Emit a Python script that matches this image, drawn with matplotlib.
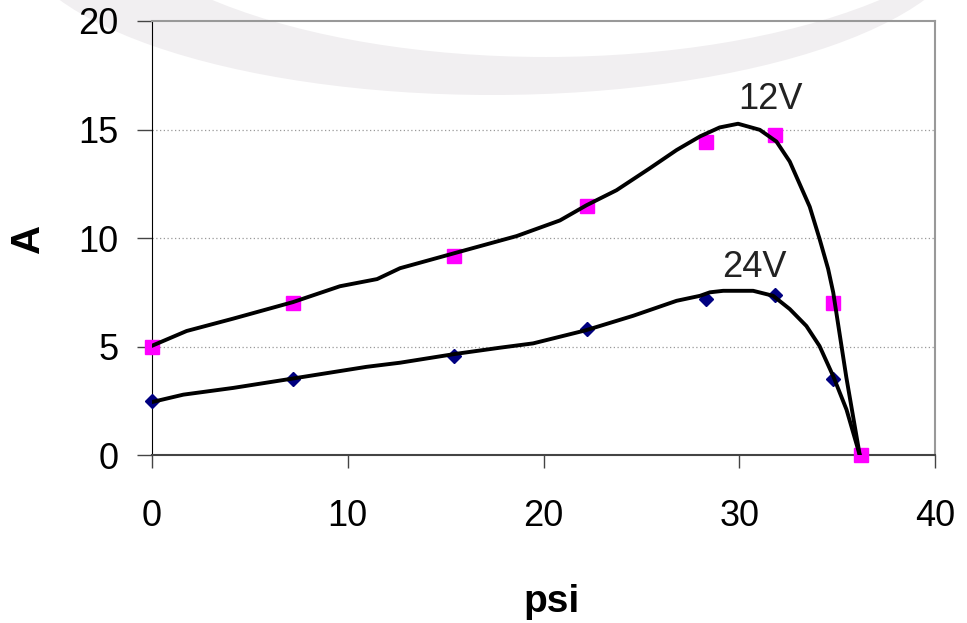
import matplotlib
matplotlib.use("Agg")
import matplotlib.pyplot as plt
from matplotlib.patches import Ellipse
from matplotlib.transforms import IdentityTransform

plt.rcParams["font.family"] = ["Liberation Sans", "DejaVu Sans"]

# measured points
psi_pts = [0, 7.2, 15.45, 22.2, 28.3, 31.85, 34.8, 36.2]
amp_12v = [5.0, 7.0, 9.2, 11.5, 14.45, 14.75, 7.0, 0.0]
amp_24v = [2.5, 3.5, 4.6, 5.8, 7.2, 7.4, 3.5, 0.0]

# trend curves
curve_12v_x = [0, 1.77, 4.15, 7.2, 9.6, 11.5, 12.67, 15.44, 18.63, 20.84, 22.2,
               23.73, 25.43, 26.8, 28.0, 29.0, 29.94, 31.05, 31.9, 32.58, 33.6,
               34.1, 34.54, 34.8, 35.47, 36.16]
curve_12v_y = [5.05, 5.73, 6.3, 7.06, 7.79, 8.12, 8.62, 9.31, 10.1, 10.82, 11.52,
               12.21, 13.22, 14.06, 14.69, 15.1, 15.27, 14.99, 14.45, 13.53, 11.45,
               9.98, 8.59, 7.51, 3.6, 0.0]
curve_24v_x = [0, 1.6, 4.15, 7.18, 10.96, 12.67, 15.46, 17.77, 19.47, 22.15, 24.58,
               26.8, 28.0, 28.5, 29.18, 30.71, 31.73, 32.58, 33.43, 34.1, 34.8,
               35.48, 36.16]
curve_24v_y = [2.46, 2.8, 3.11, 3.54, 4.08, 4.27, 4.67, 4.96, 5.16, 5.76, 6.43,
               7.12, 7.35, 7.51, 7.58, 7.58, 7.35, 6.74, 5.96, 5.04, 3.65,
               2.11, 0.0]

x_ticks = [0, 10, 20, 30, 40]
y_ticks = [0, 5, 10, 15, 20]


def main() -> None:
    fig = plt.figure(figsize=(9.67, 6.23), dpi=100)
    h = 623

    # faint watermark swoosh behind everything (pixel coords)
    outer = Ellipse((492, h + 73), 960, 336, facecolor="#f1eff1",
                    edgecolor="none", transform=IdentityTransform(), zorder=0)
    inner = Ellipse((546, h + 126), 920, 366, facecolor="white",
                    edgecolor="none", transform=IdentityTransform(), zorder=0)
    fig.patches.extend([outer, inner])

    ax = fig.add_axes([0.1572, 0.2689, 0.8097, 0.6974])
    ax.set_zorder(2)
    ax.set_facecolor("none")

    ax.plot(psi_pts, amp_24v, ls="none", marker="D", ms=7,
            color="#000080", zorder=3, clip_on=False)
    ax.plot(psi_pts, amp_12v, ls="none", marker="s", ms=9.5,
            color="#ff00ff", zorder=3, clip_on=False)
    ax.plot(curve_12v_x, curve_12v_y, color="black", lw=2.8, zorder=4)
    ax.plot(curve_24v_x, curve_24v_y, color="black", lw=2.8, zorder=4)

    ax.text(31.6, 16.4, "12V", fontsize=26, color="#222222",
            ha="center", va="center")
    ax.text(30.75, 8.64, "24V", fontsize=26, color="#222222",
            ha="center", va="center")

    ax.set_xlim(0, 40)
    ax.set_ylim(0, 20)
    ax.set_xticks(x_ticks)
    ax.set_yticks(y_ticks)
    ax.tick_params(axis="x", direction="out", length=9, width=1,
                   color="#444444", labelsize=26, pad=22)
    ax.tick_params(axis="y", direction="out", length=11, width=1,
                   color="#444444", labelsize=26, pad=13)

    for y in y_ticks[1:-1]:
        ax.axhline(y, color="#999999", lw=0.9, ls=(0, (1, 2)), zorder=1)

    ax.spines["left"].set_color("black")
    ax.spines["bottom"].set_color("#444444")
    ax.spines["bottom"].set_linewidth(1.5)
    ax.spines["top"].set_color("#999999")
    ax.spines["right"].set_color("#999999")
    ax.spines["top"].set_linewidth(1.5)
    ax.spines["right"].set_linewidth(1.5)

    ax.set_xlabel("psi", fontsize=28, fontweight="bold", va="center")
    ax.xaxis.set_label_coords(0.51, -0.338)
    ax.set_ylabel("A", fontsize=29, fontweight="bold", va="center")
    ax.yaxis.set_label_coords(-0.158, 0.5)

    fig.savefig("out.png", dpi=100)


if __name__ == "__main__":
    main()
